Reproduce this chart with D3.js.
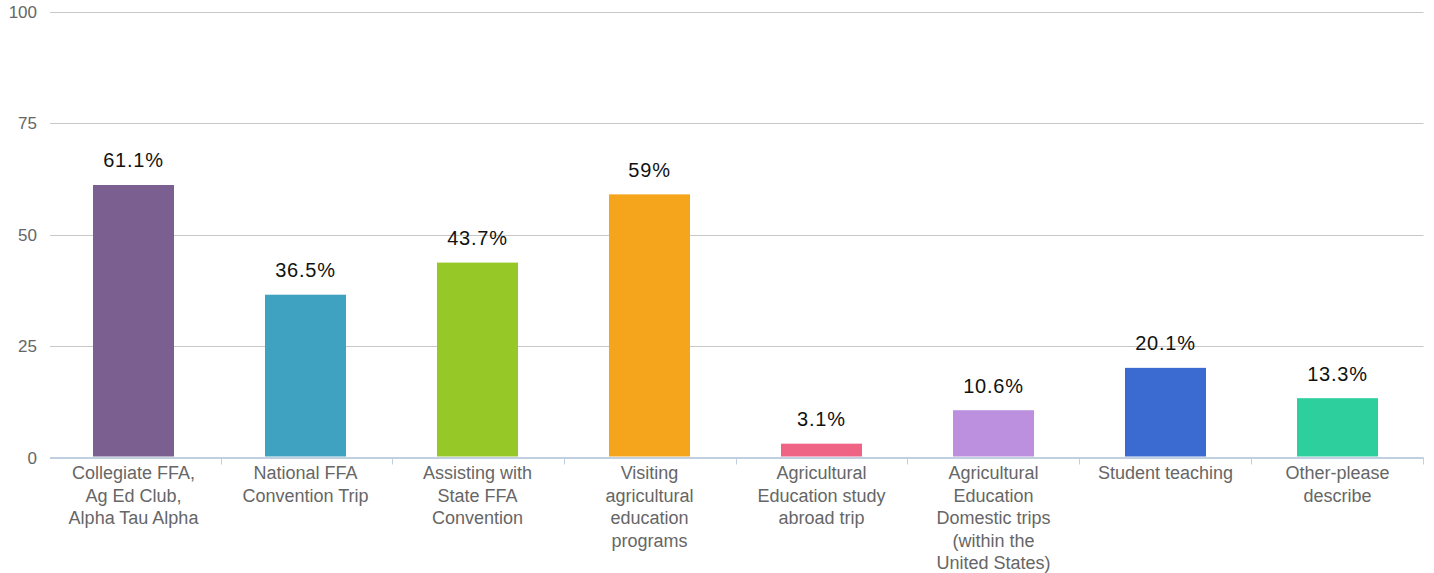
<!DOCTYPE html>
<html>
<head>
<meta charset="utf-8">
<script src="https://cdn.jsdelivr.net/npm/d3@7"></script>
<style>
  html, body { margin: 0; padding: 0; background: #fff; }
  svg { display: block; font-family: "Liberation Sans", Arial, sans-serif; }
</style>
</head>
<body>
<svg id="chart" width="1434" height="573"></svg>
<script>
const categories = [
  "Collegiate FFA, Ag Ed Club, Alpha Tau Alpha",
  "National FFA Convention Trip",
  "Assisting with State FFA Convention",
  "Visiting agricultural education programs",
  "Agricultural Education study abroad trip",
  "Agricultural Education Domestic trips (within the United States)",
  "Student teaching",
  "Other-please describe"
];
const categoryLines = [
  ["Collegiate FFA,", "Ag Ed Club,", "Alpha Tau Alpha"],
  ["National FFA", "Convention Trip"],
  ["Assisting with", "State FFA", "Convention"],
  ["Visiting", "agricultural", "education", "programs"],
  ["Agricultural", "Education study", "abroad trip"],
  ["Agricultural", "Education", "Domestic trips", "(within the", "United States)"],
  ["Student teaching"],
  ["Other-please", "describe"]
];
const values = [61.1, 36.5, 43.7, 59, 3.1, 10.6, 20.1, 13.3];
const valueLabels = ["61.1%", "36.5%", "43.7%", "59%", "3.1%", "10.6%", "20.1%", "13.3%"];
const colors = ["#7b5f90", "#3fa2c1", "#96c927", "#f4a51c", "#ef6384", "#bc8fdf", "#3b6bd1", "#2dcf9c"];
const yTicks = [0, 25, 50, 75, 100];

(function () {
const svg = d3.select("#chart");
const mLeft = 50, mRight = 1423.5, mTop = 11.5, mBottom = 457.5;

// axis band scale (tick marks at band boundaries)
const x = d3.scaleBand().domain(categories).range([mLeft, mRight]).padding(0);
// bar band scale
const xb = d3.scaleBand().domain(categories).range([mLeft - 2.5, mRight]).paddingInner(0.529).paddingOuter(0.2645);
const y = d3.scaleLinear().domain([0, 100]).range([mBottom, mTop]);

// gridlines
svg.append("g").selectAll("line").data(yTicks.filter(d => d > 0)).join("line")
  .attr("x1", mLeft).attr("x2", mRight)
  .attr("y1", d => Math.round(y(d)) + 0.5).attr("y2", d => Math.round(y(d)) + 0.5)
  .attr("stroke", "#c8c8c8").attr("stroke-width", 1);

// y labels
svg.append("g").selectAll("text").data(yTicks).join("text")
  .attr("x", 37).attr("y", d => y(d) + 6)
  .attr("text-anchor", "end")
  .attr("font-size", 17).attr("fill", "#666")
  .text(d => d);

// bars
svg.append("g").selectAll("rect").data(values).join("rect")
  .attr("x", (d, i) => xb(categories[i]))
  .attr("width", xb.bandwidth())
  .attr("y", d => y(d))
  .attr("height", d => y(0) - y(d) - 1)
  .attr("fill", (d, i) => colors[i]);

// value labels
svg.append("g").selectAll("text").data(values).join("text")
  .attr("x", (d, i) => xb(categories[i]) + xb.bandwidth() / 2)
  .attr("y", d => y(d) - 17.5)
  .attr("text-anchor", "middle")
  .attr("font-size", 20).attr("letter-spacing", 0.8).attr("fill", "#111")
  .text((d, i) => valueLabels[i]);

// x axis line
svg.append("line").attr("x1", mLeft).attr("x2", mRight)
  .attr("y1", mBottom + 0.5).attr("y2", mBottom + 0.5)
  .attr("stroke", "#c0d0e0").attr("stroke-width", 2);

// ticks at band boundaries
const tickPos = categories.map(c => x(c) + x.step());
svg.append("g").selectAll("line").data(tickPos).join("line")
  .attr("x1", d => Math.round(d) - 0.5).attr("x2", d => Math.round(d) - 0.5)
  .attr("y1", mBottom).attr("y2", mBottom + 7)
  .attr("stroke", "#c0d0e0").attr("stroke-width", 1);

// category labels
const lab = svg.append("g").selectAll("text").data(categories).join("text")
  .attr("x", d => xb(d) + xb.bandwidth() / 2)
  .attr("y", 479)
  .attr("text-anchor", "middle")
  .attr("font-size", 18).attr("fill", "#666");
lab.each(function(d, i) {
  const t = d3.select(this);
  categoryLines[i].forEach((ln, j) => {
    t.append("tspan").attr("x", xb(d) + xb.bandwidth() / 2).attr("dy", j === 0 ? 0 : 22.5).text(ln);
  });
});
})();
</script>
</body>
</html>
